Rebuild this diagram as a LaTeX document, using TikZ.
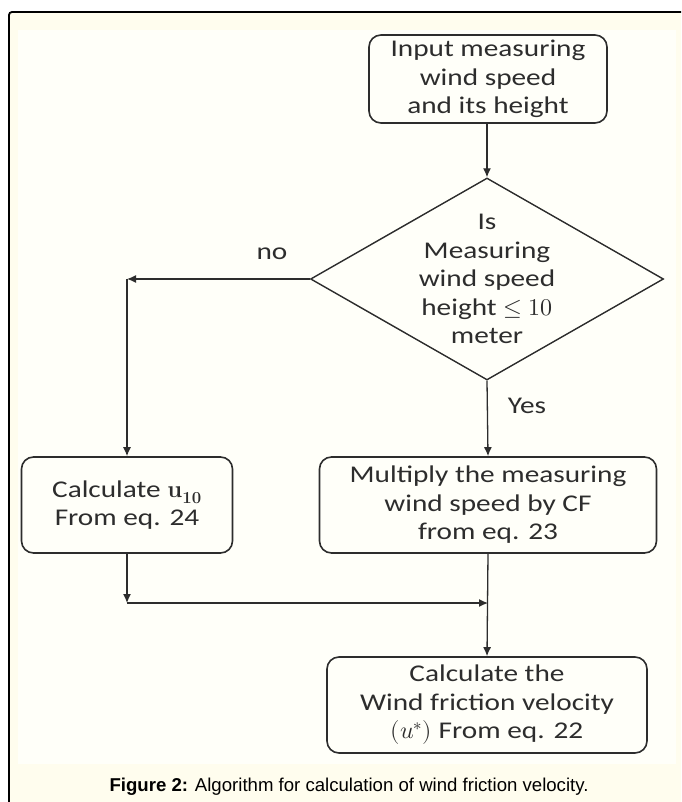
\documentclass[tikz,border=0pt]{standalone}
\usepackage{fontspec}
\usepackage{unicode-math}
\setmathfont{Latin Modern Math}
\newfontfamily\boxfont{Carlito}[FakeStretch=1.22]
\newfontfamily\capfont{Liberation Sans}
\usetikzlibrary{shapes.geometric,arrows.meta}

\definecolor{paper}{RGB}{255,253,238}
\definecolor{sheet}{RGB}{255,255,249}
\definecolor{ink}{RGB}{45,45,45}

\tikzset{
  boxtext/.style={text=ink, align=center, font=\boxfont\fontsize{24}{28.5}\selectfont},
  flowbox/.style={boxtext, draw=ink, line width=1.6pt, rounded corners=12pt,
    minimum width=#1, minimum height=96pt, inner sep=0pt},
  flowbox/.default=238pt,
  decision/.style={draw=ink, line width=1.4pt, shape=diamond, inner sep=0pt,
    minimum width=353pt, minimum height=202pt},
  flow/.style={draw=ink, line width=1.3pt, -{Latex[length=9pt,width=8pt]}},
}

\begin{document}
\begin{tikzpicture}[x=1pt,y=-1pt]
\useasboundingbox (0,0) rectangle (681,802);

% sheet and frame
\fill[white] (0,0) rectangle (681,802);
\fill[paper] (9,12) rectangle (681,802);
\fill[sheet] (18,30) rectangle (676,764);
\draw[line width=1.8pt, rounded corners=3pt] (9,802) -- (9,12) -- (681,12);

% steps
\node[flowbox, minimum height=88pt] (input) at (488,79) {Input measuring\\wind speed\\and its height};

\node[decision] (check) at (487,279) {};
\node[boxtext] (checktext) at (check.center) {Is\\Measuring\\wind speed\\height $\leq 10$\\meter};

\node[flowbox=211pt] (calcu) at (127,505) {Calculate $\mathbf{u}_{\mathbf{10}}$\\From eq. 24};
\node[flowbox=337pt] (multiply) at (488,505) {Multiply the measuring\\wind speed by CF\\from eq. 23};
\node[flowbox=320pt] (friction) at (487,705) {Calculate the\\Wind friction velocity\\$(u^{*})$ From eq. 22};

\node[boxtext] (nolabel) at (272,254) {no};
\node[boxtext] (yeslabel) at (527,406) {Yes};

% connectors
\coordinate (nocorner) at (check.west -| calcu.north);
\coordinate (leftdrop) at (calcu.south |- 0,603);
\coordinate (merge) at (multiply.south |- leftdrop);

\draw[flow] (input.south -| check.north) -- (check.north);
\draw[flow] (check.west) -- (nocorner);
\draw[flow] (nocorner) -- (calcu.north);
\draw[flow] (check.south) -- (multiply.north);
\draw[flow] (calcu.south) -- (leftdrop);
\draw[flow] (leftdrop) -- (merge);
\draw[flow] (multiply.south) -- (friction.north);

% caption
\node[text=black, font=\capfont\fontsize{18.6}{22}\selectfont] (caption) at (349,787)
  {\textbf{Figure 2:} Algorithm for calculation of wind friction velocity.};
\end{tikzpicture}
\end{document}
